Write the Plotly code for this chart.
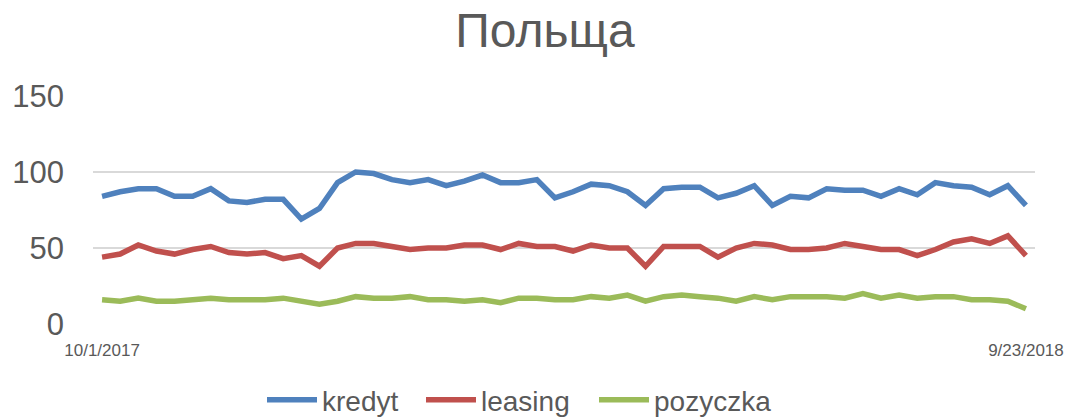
import pandas as pd
import plotly.graph_objects as go

dates = pd.date_range("2017-10-01", periods=52, freq="7D")

kredyt = [84, 87, 89, 89, 84, 84, 89, 81, 80, 82,
          82, 69, 76, 93, 100, 99, 95, 93, 95, 91,
          94, 98, 93, 93, 95, 83, 87, 92, 91, 87,
          78, 89, 90, 90, 83, 86, 91, 78, 84, 83,
          89, 88, 88, 84, 89, 85, 93, 91, 90, 85,
          91, 78]
leasing = [44, 46, 52, 48, 46, 49, 51, 47, 46, 47,
           43, 45, 38, 50, 53, 53, 51, 49, 50, 50,
           52, 52, 49, 53, 51, 51, 48, 52, 50, 50,
           38, 51, 51, 51, 44, 50, 53, 52, 49, 49,
           50, 53, 51, 49, 49, 45, 49, 54, 56, 53,
           58, 45]
pozyczka = [16, 15, 17, 15, 15, 16, 17, 16, 16, 16,
            17, 15, 13, 15, 18, 17, 17, 18, 16, 16,
            15, 16, 14, 17, 17, 16, 16, 18, 17, 19,
            15, 18, 19, 18, 17, 15, 18, 16, 18, 18,
            18, 17, 20, 17, 19, 17, 18, 18, 16, 16,
            15, 10]

series_names = ["kredyt", "leasing", "pozyczka"]
colors = ["#4f81bd", "#c0504d", "#9bbb59"]
y_ticks = [0, 50, 100, 150]
x_tick_text = ["10/1/2017", "9/23/2018"]
title_text = "Польща"

legend_ids = ["legend", "legend2", "legend3"]
legend_left_px = [268, 427, 600]  # where each legend line starts

fig = go.Figure()
for name, vals, col, lid in zip(series_names, [kredyt, leasing, pozyczka], colors, legend_ids):
    fig.add_trace(go.Scatter(
        x=dates, y=vals, name=name, mode="lines",
        line=dict(color=col, width=5.5, shape="linear"),
        legend=lid, showlegend=True,
    ))

font_color = "#595959"
half = pd.Timedelta(days=3.5)

legend_common = dict(
    orientation="h", xref="container", yref="container",
    xanchor="left", y=(417 - 400) / 417, yanchor="middle",
    font=dict(size=28, color=font_color), itemwidth=50,
    bgcolor="rgba(0,0,0,0)", visible=True,
)

layout_legends = {}
for lid, px in zip(legend_ids, legend_left_px):
    layout_legends[lid] = dict(legend_common, x=(px - 6) / 1069)

fig.update_layout(
    width=1069, height=417,
    showlegend=True,
    margin=dict(l=93, r=34, t=96, b=93, autoexpand=False),
    paper_bgcolor="white", plot_bgcolor="white",
    font=dict(family="Liberation Sans, Arial, sans-serif", color=font_color),
    title=dict(text=title_text, font=dict(size=48, color=font_color),
               x=545 / 1069, xanchor="center", y=1 - 30 / 417, yanchor="middle"),
    xaxis=dict(
        type="date",
        range=[dates[0] - half, dates[-1] + half],
        tickvals=[dates[0], dates[-1]],
        ticktext=x_tick_text,
        tickfont=dict(size=17, color=font_color),
        showgrid=False, showline=False, zeroline=False,
        ticks="", ticklabelstandoff=14, automargin=False,
    ),
    yaxis=dict(
        range=[0, 150],
        tickvals=y_ticks,
        tickfont=dict(size=31, color=font_color),
        showgrid=True, gridcolor="#d9d9d9", gridwidth=1.5,
        zeroline=False, showline=False, ticks="",
        ticklabelstandoff=28, automargin=False,
    ),
    **layout_legends,
)

fig.write_html("out.html", config={"displayModeBar": False},
               post_script="document.body.style.margin='0';")
